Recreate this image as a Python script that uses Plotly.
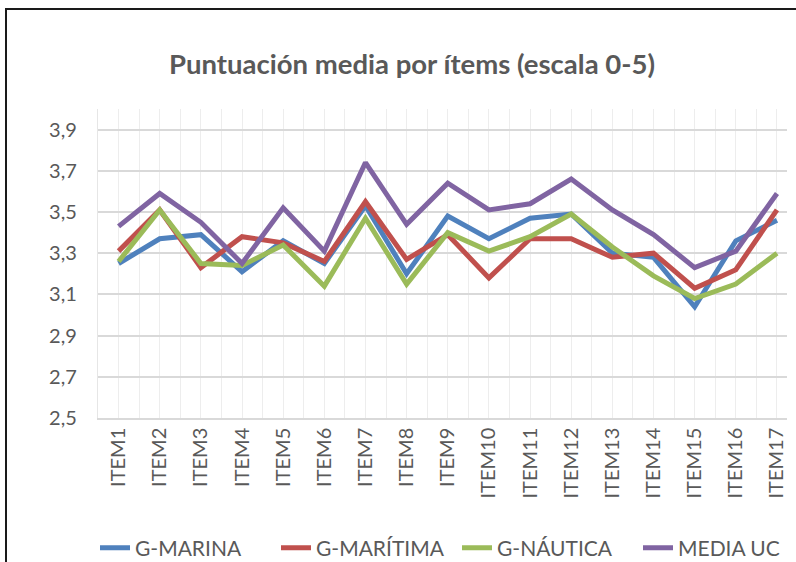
import plotly.graph_objects as go

items = ["ITEM%d" % i for i in range(1, 18)]
series_names = ["G-MARINA", "G-MARÍTIMA", "G-NÁUTICA", "MEDIA UC"]
g_marina = [3.25, 3.37, 3.39, 3.21, 3.36, 3.25, 3.53, 3.20, 3.48, 3.37, 3.47, 3.49, 3.30, 3.28, 3.04, 3.36, 3.46]
g_maritima = [3.31, 3.51, 3.23, 3.38, 3.35, 3.26, 3.55, 3.27, 3.39, 3.18, 3.37, 3.37, 3.28, 3.30, 3.13, 3.22, 3.51]
g_nautica = [3.26, 3.51, 3.25, 3.24, 3.34, 3.14, 3.47, 3.15, 3.40, 3.31, 3.38, 3.49, 3.33, 3.19, 3.08, 3.15, 3.30]
media_uc = [3.43, 3.59, 3.45, 3.25, 3.52, 3.31, 3.74, 3.44, 3.64, 3.51, 3.54, 3.66, 3.51, 3.39, 3.23, 3.31, 3.59]
y_ticks = [2.5, 2.7, 2.9, 3.1, 3.3, 3.5, 3.7, 3.9]

colors = ["#4F81BD", "#C0504D", "#9BBB59", "#8064A2"]
values = [g_marina, g_maritima, g_nautica, media_uc]

W, H = 796, 562
L, R, T, B = 98, 9, 109, 144
pw, ph = W - L - R, H - T - B

x_idx = list(range(len(items)))

fig = go.Figure()
for name, vals, col in zip(series_names, values, colors):
    fig.add_trace(go.Scatter(x=x_idx, y=vals, name=name, mode="lines",
                             line=dict(color=col, width=5)))

def px_x(px):
    return (px - L) / pw

def px_y(py):
    return (H - B - py) / ph

fig.update_layout(
    width=W, height=H,
    margin=dict(l=L, r=R, t=T, b=B, autoexpand=False),
    paper_bgcolor="white", plot_bgcolor="white",
    separators=",.",
    font=dict(family="Lato", color="#595959"),
    title=dict(text="<b>Puntuación media por ítems (escala 0-5)</b>",
               x=412 / W, xref="container", xanchor="center",
               y=1 - 64 / H, yref="container", yanchor="middle",
               font=dict(size=27.5, color="#595959", family="Lato")),
    showlegend=True,
    legend=dict(orientation="h", xref="paper", yref="paper",
                x=px_x(95), xanchor="left", y=px_y(548), yanchor="middle",
                font=dict(size=21, color="#595959"),
                bgcolor="rgba(0,0,0,0)", entrywidth=136, entrywidthmode="pixels"),
    xaxis=dict(range=[-0.5, -0.5 + pw / 41.15], tickvals=x_idx, ticktext=items,
               tickangle=-90, tickfont=dict(size=20, color="#595959"),
               showgrid=True, gridcolor="#EDEDED", gridwidth=1.4,
               minor=dict(dtick=0.5, tick0=-0.5, showgrid=True, gridcolor="#EDEDED", gridwidth=1.4),
               showline=True, linecolor="#D9D9D9", linewidth=1.5,
               zeroline=False, ticks="", ticklen=0),
    yaxis=dict(range=[2.5, 4.0], tickvals=y_ticks, tickformat=".1f",
               tickfont=dict(size=20, color="#595959"),
               showgrid=True, gridcolor="#D9D9D9", gridwidth=1.5,
               showline=True, linecolor="#E6E6E6", linewidth=1.4,
               zeroline=False, ticks="", ticklabelstandoff=16),
    shapes=[dict(type="rect", xref="paper", yref="paper",
                 x0=px_x(6), x1=px_x(806), y0=px_y(575), y1=px_y(9),
                 line=dict(color="#1A1A1A", width=2), fillcolor="rgba(0,0,0,0)", layer="above")],
)

fig.write_html("out.html", config={"displayModeBar": False},
               post_script="document.body.style.margin='0';document.body.style.overflow='hidden';")
